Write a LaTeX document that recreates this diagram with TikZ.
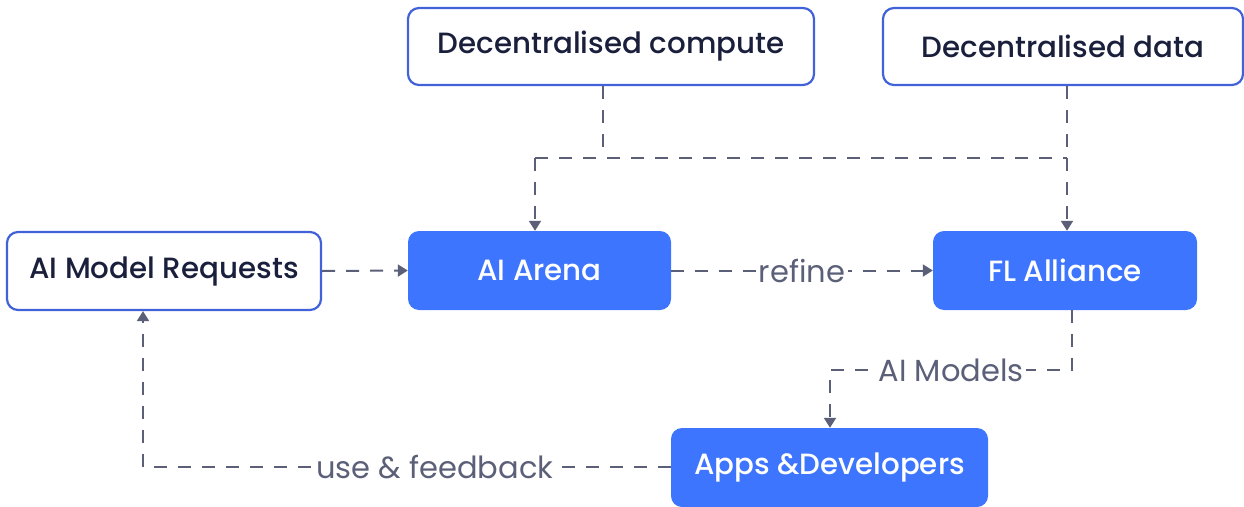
\documentclass[tikz,border=0pt]{standalone}
\usepackage{fontspec}
\setmainfont{Poppins}
\newfontfamily\popmed{Poppins Medium}
\usetikzlibrary{arrows.meta}
\definecolor{bord}{HTML}{4162D8}
\definecolor{bfill}{HTML}{3D75FE}
\definecolor{dtext}{HTML}{1A1F3C}
\definecolor{gline}{HTML}{5B6078}
\tikzset{
  wbox/.style={draw=bord, line width=2.2pt, fill=white, rounded corners=11pt, text=dtext, font=\popmed\fontsize{29.3}{34}\selectfont, inner sep=0pt},
  bbox/.style={draw=none, fill=bfill, rounded corners=11pt, text=white, font=\popmed\fontsize{29.3}{34}\selectfont, inner sep=0pt},
  conn/.style={draw=gline, line width=2pt, dash pattern=on 13pt off 11pt},
  arr/.style={-{Triangle[width=12pt,length=10pt]}},
  lbl/.style={fill=white, text=gline, font=\fontsize{30.5}{36}\selectfont, inner sep=3pt},
}
\begin{document}
\begin{tikzpicture}[x=1pt,y=1pt]
\useasboundingbox (0,0) rectangle (1244,-506);
\node[wbox, minimum width=406pt, minimum height=77pt] (comp) at (611,-46.5) {Decentralised compute};
\node[wbox, minimum width=360pt, minimum height=77pt] (data) at (1063,-46.5) {Decentralised data};
\node[wbox, minimum width=314pt, minimum height=78pt] (req) at (164,-271) {AI Model Requests};
\node[bbox, minimum width=263pt, minimum height=79pt] (arena) at (539.5,-270.5) {AI Arena};
\node[bbox, minimum width=264pt, minimum height=79pt] (fl) at (1065,-270.5) {FL Alliance};
\node[bbox, minimum width=317pt, minimum height=79pt] (apps) at (829.5,-467.5) {Apps \&Developers};
\coordinate (cx) at (603,-158);
\coordinate (jl) at (535,-158);
\coordinate (jr) at (1067,-158);
\coordinate (m1) at (1072,-370);
\coordinate (m2) at (830,-370);
\coordinate (f1) at (143,-467);
\draw[conn] (comp.south -| cx) -- (cx);
\draw[conn] (jl) -- (jr);
\draw[conn,arr] (jl) -- (arena.north -| jl);
\draw[conn,arr] (data.south -| jr) -- (fl.north -| jr);
\draw[conn,arr] (req.east) -- (arena.west);
\draw[conn,arr] (arena.east) -- node[lbl]{refine} (fl.west);
\draw[conn,arr] (fl.south -| m1) -- (m1) -- node[lbl]{AI Models} (m2) -- (apps.north -| m2);
\draw[conn,arr] (apps.west |- f1) -- node[lbl, pos=0.447]{use \& feedback} (f1) -- (req.south -| f1);
\end{tikzpicture}
\end{document}
